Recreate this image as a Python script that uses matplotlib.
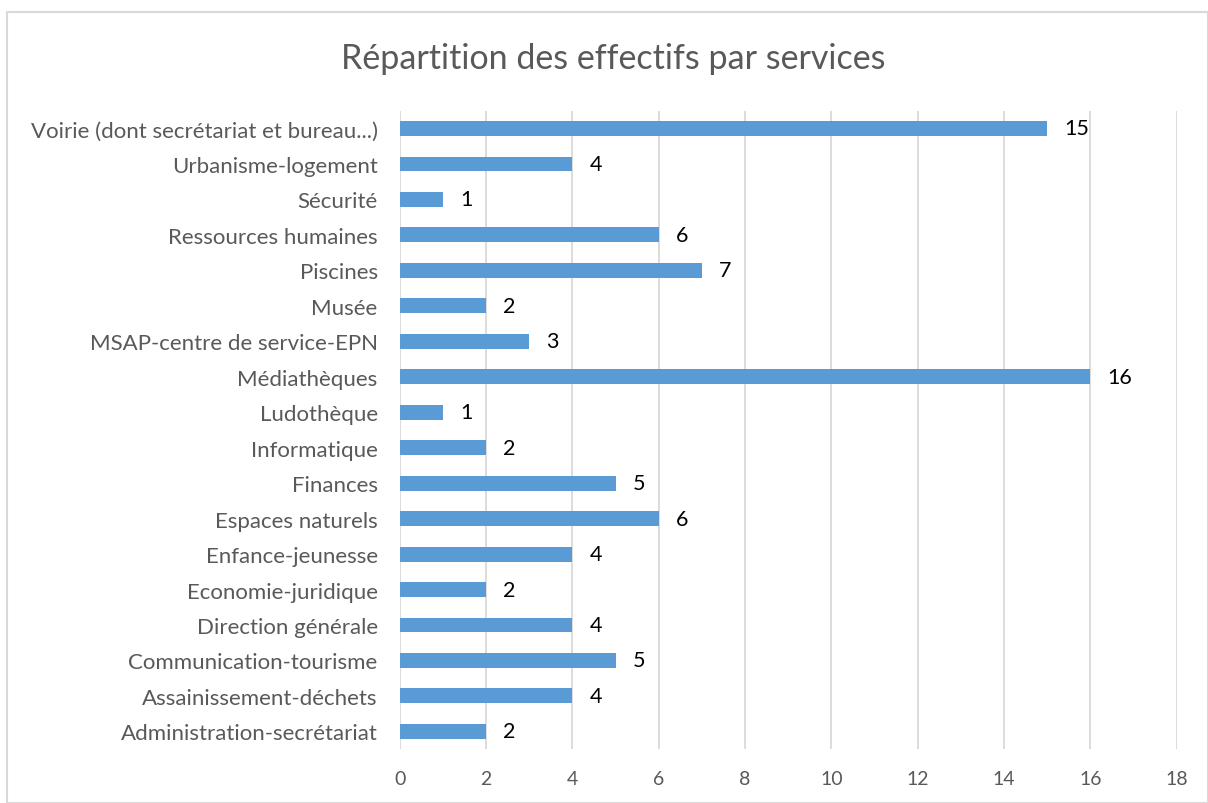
import matplotlib
matplotlib.use("Agg")
import matplotlib.pyplot as plt
from matplotlib.patches import Rectangle

plt.rcParams['font.family'] = ['Lato', 'DejaVu Sans']

# Services, top to bottom as shown on the chart
services = [
    'Voirie (dont secrétariat et bureau...)',
    'Urbanisme-logement',
    'Sécurité',
    'Ressources humaines',
    'Piscines',
    'Musée',
    'MSAP-centre de service-EPN',
    'Médiathèques',
    'Ludothèque',
    'Informatique',
    'Finances',
    'Espaces naturels',
    'Enfance-jeunesse',
    'Economie-juridique',
    'Direction générale',
    'Communication-tourisme',
    'Assainissement-déchets',
    'Administration-secrétariat',
]
effectifs = [15, 4, 1, 6, 7, 2, 3, 16, 1, 2, 5, 6, 4, 2, 4, 5, 4, 2]
xticks = [0, 2, 4, 6, 8, 10, 12, 14, 16, 18]

fig = plt.figure(figsize=(12.08, 8.04), dpi=100)
ax = fig.add_axes([0.331, 0.067, 0.643, 0.794])

# light frame around the whole chart, like the Excel chart area
fig.patches.append(Rectangle((0.006, 0.0), 0.994, 0.984, transform=fig.transFigure,
                             fill=False, edgecolor='#d9d9d9', linewidth=1.5))

ypos = list(range(len(services)))[::-1]
ax.barh(ypos, effectifs, height=0.42, color='#5b9bd5', zorder=3)

for y, v in zip(ypos, effectifs):
    ax.text(v + 0.4, y, str(v), va='center', ha='left', fontsize=15.5, color='#000000')

ax.set_yticks(ypos)
ax.set_yticklabels(services, fontsize=16, color='#595959')
ax.set_xticks(xticks)
ax.set_xticklabels([str(t) for t in xticks], fontsize=14, color='#595959')
ax.set_xlim(0, 18)
ax.set_ylim(-0.5, len(services) - 0.5)

ax.grid(axis='x', color='#d9d9d9', linewidth=1.3, zorder=0)
for s in ax.spines.values():
    s.set_visible(False)
ax.tick_params(axis='both', length=0)
ax.tick_params(axis='y', pad=16)
ax.tick_params(axis='x', pad=15)

fig.text(0.508, 0.927, 'Répartition des effectifs par services', ha='center', va='center',
         fontsize=24.5, color='#595959')

fig.savefig('out.png', dpi=100)
